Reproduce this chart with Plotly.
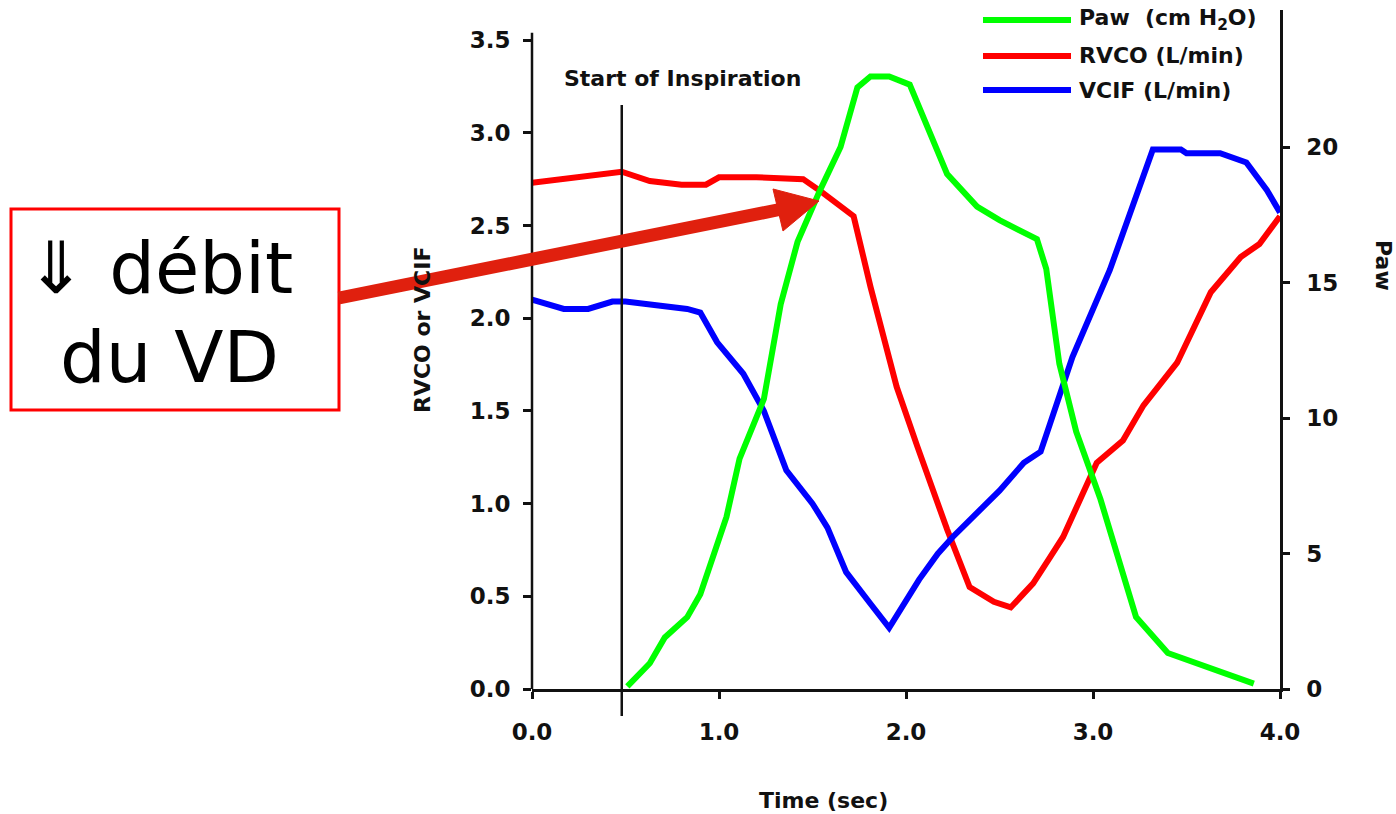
import plotly.graph_objects as go

# ---------------- data ----------------
rvco_t = [0, 0.15, 0.35, 0.48, 0.63, 0.8, 0.93, 1.0, 1.2, 1.45, 1.55, 1.66, 1.72, 1.81,
          1.95, 2.06, 2.22, 2.34, 2.47, 2.56, 2.68, 2.77, 2.84, 3.02, 3.16, 3.27, 3.45,
          3.63, 3.79, 3.89, 4.0]
rvco_v = [2.73, 2.75, 2.77, 2.79, 2.74, 2.72, 2.72, 2.76, 2.76, 2.75, 2.68, 2.60, 2.55, 2.17,
          1.63, 1.31, 0.86, 0.55, 0.47, 0.44, 0.57, 0.71, 0.82, 1.22, 1.34, 1.53, 1.76,
          2.14, 2.33, 2.40, 2.55]

vcif_t = [0, 0.17, 0.3, 0.43, 0.5, 0.65, 0.83, 0.9, 0.99, 1.13, 1.24, 1.36, 1.5, 1.58, 1.68,
          1.81, 1.91, 2.07, 2.17, 2.25, 2.5, 2.63, 2.72, 2.77, 2.89, 3.09, 3.20, 3.27, 3.32,
          3.47, 3.50, 3.68, 3.82, 3.93, 4.0]
vcif_v = [2.10, 2.05, 2.05, 2.09, 2.09, 2.07, 2.05, 2.03, 1.87, 1.70, 1.50, 1.18, 1.00, 0.87,
          0.63, 0.46, 0.33, 0.59, 0.73, 0.82, 1.07, 1.22, 1.28, 1.43, 1.79, 2.26, 2.57, 2.78,
          2.91, 2.91, 2.89, 2.89, 2.84, 2.69, 2.57]

paw_t = [0.51, 0.63, 0.71, 0.83, 0.90, 0.95, 1.04, 1.11, 1.24, 1.33, 1.42, 1.54, 1.65, 1.74,
         1.81, 1.91, 2.02, 2.22, 2.38, 2.50, 2.70, 2.75, 2.82, 2.91, 3.04, 3.23, 3.40, 3.86]
paw_v = [0.1, 0.95, 1.9, 2.65, 3.5, 4.5, 6.35, 8.5, 10.7, 14.2, 16.5, 18.4, 20.0, 22.2,
         22.6, 22.6, 22.3, 19.0, 17.8, 17.3, 16.6, 15.5, 12.0, 9.5, 7.0, 2.66, 1.33, 0.2]

start_inspiration = 0.48

x_ticks = [0, 1, 2, 3, 4]
x_ticklabels = ["0.0", "1.0", "2.0", "3.0", "4.0"]
y_ticks = [0, 0.5, 1, 1.5, 2, 2.5, 3, 3.5]
y_ticklabels = ["0.0", "0.5", "1.0", "1.5", "2.0", "2.5", "3.0", "3.5"]
y2_ticks = [0, 5, 10, 15, 20]

legend_labels = ["Paw  (cm H<sub>2</sub>O)", "RVCO (L/min)", "VCIF (L/min)"]
legend_colors = ["#00ff00", "#ff0000", "#0000ff"]

# ---------------- layout helpers (pixel -> paper) ----------------
W, H = 1396, 814
L, R, T, B = 532, 1280, 10, 689
def px(x):
    return (x - L) / (R - L)
def py(y):
    return (B - y) / (B - T)

FONT = "DejaVu Sans"
INK = "#111111"
txt = dict(family=FONT, size=22, color=INK, weight="bold")
tickf = dict(family=FONT, size=23, color=INK, weight="bold")

fig = go.Figure()
fig.add_trace(go.Scatter(x=paw_t, y=paw_v, mode="lines", yaxis="y2", name=legend_labels[0],
                         line=dict(color=legend_colors[0], width=6), showlegend=False))
fig.add_trace(go.Scatter(x=rvco_t, y=rvco_v, mode="lines", name=legend_labels[1],
                         line=dict(color=legend_colors[1], width=6), showlegend=False))
fig.add_trace(go.Scatter(x=vcif_t, y=vcif_v, mode="lines", name=legend_labels[2],
                         line=dict(color=legend_colors[2], width=6), showlegend=False))

shapes = []
# left axis line (shorter than plot height)
shapes.append(dict(type="line", xref="paper", yref="y", x0=0, x1=0, y0=0, y1=3.54,
                   line=dict(color=INK, width=2.5)))
# start of inspiration line
shapes.append(dict(type="line", xref="x", yref="paper", x0=start_inspiration, x1=start_inspiration,
                   y0=py(716), y1=py(105), line=dict(color=INK, width=2.5)))
# manual legend lines
leg_y = [20, 56, 90]
for i, c in enumerate(legend_colors):
    shapes.append(dict(type="line", xref="paper", yref="paper", x0=px(983), x1=px(1071),
                       y0=py(leg_y[i]), y1=py(leg_y[i]), line=dict(color=c, width=6)))
# annotation box
shapes.append(dict(type="rect", xref="paper", yref="paper", x0=px(11), x1=px(339),
                   y0=py(410), y1=py(209), line=dict(color="#ff0000", width=3),
                   fillcolor="white"))
# arrow: shaft + head
ARROW = "#e0200e"
shapes.append(dict(type="line", xref="paper", yref="paper", x0=px(339), y0=py(298),
                   x1=px(782), y1=py(209), line=dict(color=ARROW, width=13)))
head = "M {:.5f},{:.5f} L {:.5f},{:.5f} L {:.5f},{:.5f} Z".format(
    px(819), py(201), px(773), py(189), px(783), py(231))
shapes.append(dict(type="path", xref="paper", yref="paper", path=head,
                   fillcolor=ARROW, line=dict(color=ARROW, width=1)))

annotations = []
annotations.append(dict(x=px(562), y=py(79), xref="paper", yref="paper", xanchor="left",
                        yanchor="middle", text="Start of Inspiration", showarrow=False,
                        font=txt))
for i, lab in enumerate(legend_labels):
    annotations.append(dict(x=px(1077), y=py(leg_y[i]), xref="paper", yref="paper",
                            xanchor="left", yanchor="middle", text=lab, showarrow=False,
                            font=txt))
# axis titles
annotations.append(dict(x=px(1384), y=py(265), xref="paper", yref="paper", text="Paw",
                        xanchor="center", yanchor="middle",
                        textangle=90, showarrow=False, font=txt))
annotations.append(dict(x=px(422), y=py(330), xref="paper", yref="paper", text="RVCO or VCIF",
                        xanchor="center", yanchor="middle",
                        textangle=-90, showarrow=False,
                        font=dict(family=FONT, size=22, color=INK, weight="bold")))
annotations.append(dict(x=px(823), y=py(800), xref="paper", yref="paper", text="Time (sec)",
                        xanchor="center", yanchor="middle", showarrow=False,
                        font=dict(family=FONT, size=22, color=INK, weight="bold")))
big = dict(family=FONT, size=72, color="#000000")
annotations.append(dict(x=px(24), y=py(268), xref="paper", yref="paper", xanchor="left",
                        yanchor="middle", text="⇓ débit", showarrow=False, font=big))
annotations.append(dict(x=px(58), y=py(357), xref="paper", yref="paper", xanchor="left",
                        yanchor="middle", text="du VD", showarrow=False, font=big))

fig.update_layout(
    width=W, height=H,
    margin=dict(l=L, r=W - R, t=T, b=H - B, pad=0),
    paper_bgcolor="white", plot_bgcolor="white",
    showlegend=False,
    font=dict(family=FONT, color=INK),
    xaxis=dict(range=[0, 4], tickvals=x_ticks, ticktext=x_ticklabels, showgrid=False,
               zeroline=False, showline=True, linecolor=INK, linewidth=2.5,
               ticks="outside", ticklen=7, tickwidth=2.5, tickcolor=INK,
               tickfont=tickf, ticklabelstandoff=14),
    yaxis=dict(range=[0, (B - T) / 185.4], tickvals=y_ticks, ticktext=y_ticklabels,
               showgrid=False, zeroline=False, showline=False,
               ticks="outside", ticklen=8, tickwidth=2.5, tickcolor=INK,
               tickfont=tickf, ticklabelstandoff=8),
    yaxis2=dict(range=[0, (B - T) / 27.1], tickvals=y2_ticks, overlaying="y", side="right",
                showgrid=False, zeroline=False, showline=True, linecolor=INK,
                linewidth=2.5, ticks="outside", ticklen=7, tickwidth=2.5, tickcolor=INK,
                tickfont=tickf, ticklabelstandoff=12),
    shapes=shapes,
    annotations=annotations,
)

fig.write_html("out.html")
